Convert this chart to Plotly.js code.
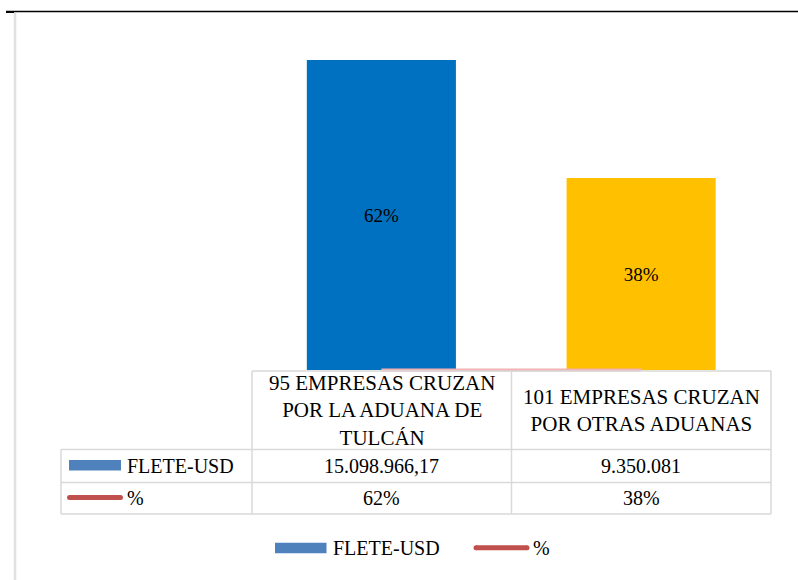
<!DOCTYPE html>
<html>
<head>
<meta charset="utf-8">
<script src="https://cdn.plot.ly/plotly-3.0.1.min.js"></script>
<style>
html,body{margin:0;padding:0;background:#fff;}
#chart{width:798px;height:580px;}
#fontwarm{position:absolute;left:0;top:0;width:1px;height:1px;overflow:hidden;font:12px "Liberation Serif";color:#fff;}
</style>
</head>
<body>
<div id="chart"></div>
<script>
// ---- data ----
const categories = ["95 EMPRESAS CRUZAN<br>POR LA ADUANA DE<br>TULCÁN", "101 EMPRESAS CRUZAN<br>POR OTRAS ADUANAS"];
const fleteUSD = [15098966.17, 9350081];
const pct = [0.62, 0.38];
const barColors = ["#0070C0", "#FFC000"];
const seriesNames = ["FLETE-USD", "%"];

// ---- helpers ----
const CW = 798, CH = 580;
const px = x => x / CW;
const py = y => 1 - y / CH;
function fmtES(v) {
  const neg = v < 0; v = Math.abs(v);
  const isInt = Math.abs(v - Math.round(v)) < 1e-9;
  let s = isInt ? Math.round(v).toString() : v.toFixed(2);
  let parts = s.split(".");
  let ip = parts[0].replace(/\B(?=(\d{3})+(?!\d))/g, ".");
  return (neg ? "-" : "") + ip + (parts[1] ? "," + parts[1] : "");
}
const fmtPct = v => Math.round(v * 100) + "%";
const SERIF = "Liberation Serif";

const traces = [
  {
    type: "bar", x: categories, y: fleteUSD, name: seriesNames[0],
    marker: {color: barColors, line: {width: 0}},
    width: 0.574,
    text: pct.map(fmtPct), textposition: "inside", insidetextanchor: "middle",
    textangle: 0,
    textfont: {family: SERIF, size: 19, color: "#000"},
    hoverinfo: "skip", showlegend: false
  },
  {
    type: "scatter", mode: "lines", x: categories, y: pct, name: seriesNames[1],
    line: {color: "#f2b2b2", width: 3},
    hoverinfo: "skip", showlegend: false
  }
];

// ---- table geometry ----
const tL = 61, tC0 = 252, tC1 = 511.5, tR = 771;
const tTop = 371, tR1 = 449.5, tR2 = 482.5, tBot = 514;
const border = {color: "#d9d9d9", width: 1.5};
const shapes = [];
function hline(x0, x1, y) { shapes.push({type: "line", xref: "paper", yref: "paper", x0: px(x0), x1: px(x1), y0: py(y), y1: py(y), line: border}); }
function vline(x, y0, y1) { shapes.push({type: "line", xref: "paper", yref: "paper", x0: px(x), x1: px(x), y0: py(y0), y1: py(y1), line: border}); }
hline(tC0, tR, tTop);
hline(tL, tR, tR1);
hline(tL, tR, tR2);
hline(tL, tR, tBot);
vline(tL, tR1, tBot);
vline(tC0, tTop, tBot);
vline(tC1, tTop, tBot);
vline(tR, tTop, tBot);

// frame lines
shapes.push({type: "line", xref: "paper", yref: "paper", x0: px(6), x1: px(798), y0: py(11.5), y1: py(11.5), line: {color: "#000", width: 1.5}});
shapes.push({type: "rect", xref: "paper", yref: "paper", x0: px(6), x1: px(14), y0: py(13), y1: py(11), line: {width: 0}, fillcolor: "#000"});
shapes.push({type: "line", xref: "paper", yref: "paper", x0: px(15), x1: px(15), y0: py(13), y1: py(580), line: {color: "#e0e0e0", width: 2.5}});

function redKey(x0, x1, y) {
  shapes.push({type: "line", xref: "paper", yref: "paper", x0: px(x0), x1: px(x1), y0: py(y), y1: py(y), line: {color: "#C0504D", width: 5}});
  [x0, x1].forEach(x => shapes.push({type: "circle", xref: "paper", yref: "paper", x0: px(x - 2.5), x1: px(x + 2.5), y0: py(y + 2.5), y1: py(y - 2.5), line: {width: 0}, fillcolor: "#C0504D"}));
}
shapes.push({type: "rect", xref: "paper", yref: "paper", x0: px(69), x1: px(121), y0: py(470.5), y1: py(460), line: {width: 0}, fillcolor: "#4F81BD"});
redKey(69.5, 120.5, 497.5);
shapes.push({type: "rect", xref: "paper", yref: "paper", x0: px(275), x1: px(326.5), y0: py(553.3), y1: py(542.7), line: {width: 0}, fillcolor: "#4F81BD"});
redKey(476, 527, 547.7);

const annotations = [];
function txt(text, x, y, anchor, size) {
  annotations.push({xref: "paper", yref: "paper", x: px(x), y: py(y), text: text, showarrow: false,
    xanchor: anchor, yanchor: "middle", align: "center",
    font: {family: SERIF, size: size, color: "#000"}});
}
const colCenters = [(tC0 + tC1) / 2, (tC1 + tR) / 2];
categories.forEach((c, i) => txt(c, colCenters[i], (tTop + tR1) / 2, "center", 21));
fleteUSD.forEach((v, i) => txt(fmtES(v), colCenters[i], (tR1 + tR2) / 2, "center", 20));
pct.forEach((v, i) => txt(fmtPct(v), colCenters[i], (tR2 + tBot) / 2, "center", 20));
txt(seriesNames[0], 125, (tR1 + tR2) / 2, "left", 20);
txt(seriesNames[1], 125, (tR2 + tBot) / 2, "left", 20);
txt(seriesNames[0], 331, 548, "left", 20);
txt(seriesNames[1], 531, 548, "left", 20);

const scale = 310 / fleteUSD[0];
const yMin = -3 / scale, yMax = (370 - 41.5) / scale;

const layout = {
  width: CW, height: CH,
  margin: {l: 0, r: 0, t: 0, b: 0, pad: 0},
  paper_bgcolor: "#fff", plot_bgcolor: "rgba(0,0,0,0)",
  showlegend: false,
  xaxis: {domain: [px(251.5), px(771)], type: "category", range: [-0.5, 1.5], visible: false, fixedrange: true},
  yaxis: {domain: [py(373), py(41.5)], range: [yMin, yMax], visible: false, fixedrange: true},
  shapes: shapes, annotations: annotations,
  font: {family: SERIF, size: 20, color: "#000"}
};

function forceSerif() {
  document.querySelectorAll("#chart text").forEach(t => t.style.setProperty("font-family", '"Liberation Serif", "Times New Roman", serif', "important"));
}
Plotly.newPlot("chart", traces, layout, {staticPlot: true}).then(() => {
  forceSerif();
  const d = document.createElement("div");
  d.id = "fontwarm";
  d.textContent = "\u00a0";
  document.body.appendChild(d);
  if (document.fonts && document.fonts.load) {
    document.fonts.load('20px "Liberation Serif"').then(() => {
      Plotly.react("chart", traces, layout, {staticPlot: true}).then(forceSerif);
    }).catch(() => {});
  }
});
</script>
</body>
</html>
